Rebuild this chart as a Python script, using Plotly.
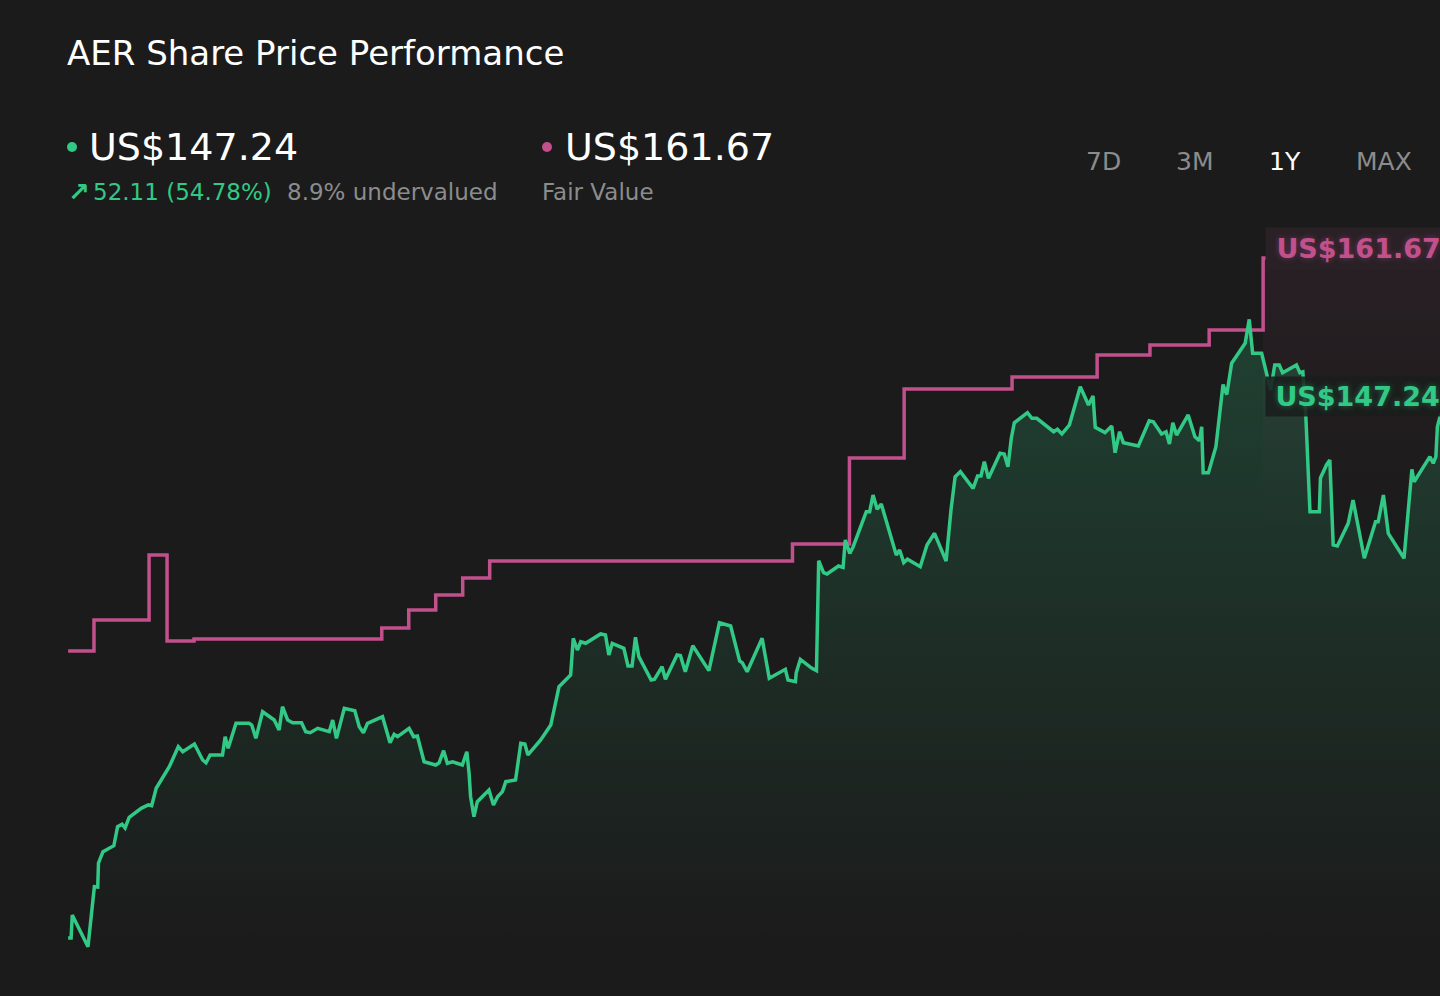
import plotly.graph_objects as go

# price history (days since start, US$)
price_day = [0.0, 0.8, 1.1, 5.3, 7.0, 7.9, 8.1, 9.3, 12.2, 13.2, 14.4, 15.2, 16.3, 19.5, 21.4, 22.3,
             23.5, 24.8, 27.0, 29.4, 30.6, 33.7, 35.9, 36.8, 37.9, 41.2, 41.9, 42.7, 44.8, 48.3, 49.0,
             50.1, 51.9, 55.0, 56.3, 57.2, 58.6, 59.9, 62.3, 63.4, 64.6, 66.6, 69.7, 70.6, 71.6, 73.7,
             76.5, 77.7, 78.8, 79.9, 83.9, 85.9, 87.0, 87.9, 91.0, 92.2, 93.2, 95.0, 98.1, 99.0, 100.2,
             101.2, 102.6, 105.2, 106.4, 107.0, 107.4, 108.3, 109.2, 112.3, 113.5, 114.6, 115.9, 116.8,
             119.4, 120.8, 121.9, 122.7, 126.1, 128.8, 129.6, 131.0, 134.1, 134.8, 135.9, 136.8, 138.1,
             142.1, 143.4, 144.3, 145.2, 148.3, 149.4, 150.5, 151.4, 152.3, 155.6, 156.5, 158.5, 159.4,
             162.5, 163.4, 164.7, 166.7, 171.0, 173.8, 176.8, 179.2, 179.9, 181.2, 185.2, 187.1, 191.4,
             192.1, 194.1, 194.3, 195.4, 198.5, 199.7, 200.3, 201.6, 202.5, 205.6, 206.8, 207.4, 208.6,
             209.5, 213.0, 213.9, 214.8, 215.9, 217.0, 221.0, 221.9, 223.0, 224.0, 227.4, 229.2, 231.2,
             234.3, 235.6, 236.7, 238.1, 241.5, 242.7, 243.6, 244.5, 245.6, 248.7, 249.8, 250.8, 251.7,
             252.5, 256.0, 257.2, 258.5, 263.0, 264.0, 265.2, 267.2, 270.1, 272.3, 273.5, 274.1, 276.7,
             278.5, 279.4, 280.6, 281.6, 285.6, 288.5, 289.6, 291.8, 293.0, 293.9, 294.8, 295.8, 298.9,
             300.7, 301.9, 302.5, 302.9, 304.3, 306.3, 308.2, 309.2, 310.5, 314.1, 315.2, 316.1, 318.5,
             320.9, 322.0, 323.2, 324.1, 327.8, 328.7, 329.5, 330.3, 331.4, 333.9, 334.2, 335.8, 336.7,
             337.6, 338.7, 341.6, 342.9, 345.9, 348.9, 349.6, 351.0, 352.3, 356.5, 358.6, 359.2, 363.4,
             364.3, 365.0, 365.4, 366.1, 367.5]
price_value = [95.13, 95.13, 97.38, 94.28, 100.15, 100.12, 102.47, 103.58, 104.16, 106.02, 106.26, 105.90,
               106.94, 107.82, 108.15, 108.08, 109.78, 110.59, 111.89, 113.85, 113.36, 114.11, 112.55,
               112.28, 113.04, 113.04, 114.83, 113.69, 116.14, 116.14, 115.97, 114.67, 117.27, 116.46,
               115.48, 117.76, 116.46, 116.20, 116.20, 115.32, 115.22, 115.65, 115.32, 116.46, 114.67,
               117.61, 117.37, 115.81, 115.22, 116.14, 116.79, 114.24, 115.06, 114.83, 115.65, 114.83,
               114.90, 112.38, 112.06, 112.28, 113.46, 112.23, 112.38, 112.06, 113.36, 111.25, 108.96,
               107.00, 108.47, 109.61, 108.15, 108.96, 109.45, 110.43, 110.59, 114.18, 114.11, 113.04,
               114.51, 115.97, 117.44, 119.72, 120.87, 124.46, 123.31, 124.12, 123.97, 124.88, 124.78,
               122.82, 123.97, 123.48, 121.75, 121.75, 124.56, 122.66, 120.38, 120.45, 121.68, 120.45,
               122.82, 122.76, 121.19, 123.73, 121.29, 125.98, 125.66, 122.24, 122.07, 121.19, 124.46,
               120.54, 121.42, 120.38, 120.21, 121.09, 122.40, 121.52, 121.29, 132.05, 130.88, 130.75,
               131.53, 131.40, 134.08, 132.77, 133.42, 136.85, 136.85, 138.48, 137.08, 137.60, 132.61,
               133.10, 131.86, 132.19, 131.46, 133.59, 134.73, 132.02, 137.01, 140.27, 140.76, 139.13,
               140.34, 140.34, 141.74, 140.11, 142.56, 142.49, 141.25, 144.03, 145.55, 146.53, 145.98,
               145.98, 144.67, 144.91, 144.45, 145.33, 149.08, 147.29, 148.17, 145.10, 144.58, 145.23,
               142.62, 144.67, 143.60, 143.27, 145.75, 145.65, 144.45, 144.67, 143.47, 145.55, 144.35,
               146.31, 144.18, 143.79, 145.16, 140.66, 140.66, 143.21, 149.29, 148.31, 151.37, 153.32,
               155.67, 152.34, 152.34, 148.75, 151.20, 151.20, 150.45, 151.20, 150.45, 150.54, 146.14,
               136.85, 136.85, 140.14, 141.42, 141.90, 133.59, 133.49, 135.71, 137.99, 132.29, 135.87,
               135.87, 138.48, 134.73, 132.29, 140.99, 139.78, 142.23, 141.58, 142.23, 145.16, 146.14,
               147.24]

# fair value estimate (step changes)
fair_day = [0.0, 6.9, 21.6, 26.4, 33.6, 83.7, 90.9, 98.1, 105.3, 112.5, 193.3, 208.5, 223.1, 251.9,
            274.6, 288.7, 304.5, 318.9, 367.5]
fair_value = [123.22, 126.25, 132.61, 124.19, 124.39, 125.47, 127.23, 128.70, 130.36, 132.02, 133.69,
              142.10, 148.85, 150.03, 152.18, 153.16, 154.62, 161.67, 161.67]

title = "AER Share Price Performance"
last_price = "US$147.24"
fair_price = "US$161.67"
change_text = "52.11 (54.78%)"
valuation_text = "8.9% undervalued"
ranges = ["7D", "3M", "1Y", "MAX"]
selected_range = "1Y"

GREEN = "#31c985"
PINK = "#c2508d"
GREY = "#8c8c8c"
BG = "#1b1b1b"
FONT = "DejaVu Sans"

W, H = 1440, 996
L, R, T, B = 67, 0, 220, 30


def px(x):
    return (x - L) / (W - L - R)


def py(y):
    return (H - B - y) / (H - T - B)


fig = go.Figure()

# green area under the price
fig.add_trace(go.Scatter(
    x=price_day, y=price_value, mode="lines", line=dict(width=0),
    fill="tozeroy",
    fillgradient=dict(type="vertical", start=95, stop=156,
                      colorscale=[[0, "rgba(49,201,133,0.0)"], [1, "rgba(49,201,133,0.22)"]]),
    hoverinfo="skip", showlegend=False))

# faint tint under the latest fair value
fig.add_trace(go.Scatter(x=[fair_day[-2], fair_day[-1]], y=[135, 135], mode="lines",
                         line=dict(width=0), hoverinfo="skip", showlegend=False))
fig.add_trace(go.Scatter(
    x=[fair_day[-2], fair_day[-1]], y=[fair_value[-2], fair_value[-1]], mode="lines",
    line=dict(width=0), fill="tonexty",
    fillgradient=dict(type="vertical", start=135, stop=161.67,
                      colorscale=[[0, "rgba(194,80,141,0.0)"], [1, "rgba(194,80,141,0.08)"]]),
    hoverinfo="skip", showlegend=False))

fig.add_trace(go.Scatter(x=fair_day, y=fair_value, mode="lines", line=dict(color=PINK, width=3.5, shape="hv"),
                         hoverinfo="skip", showlegend=False))
fig.add_trace(go.Scatter(x=price_day, y=price_value, mode="lines", line=dict(color=GREEN, width=3.5),
                         hoverinfo="skip", showlegend=False))

ann = []
ann.append(dict(x=px(65), y=py(53), text=title, font=dict(size=34, color="#ffffff", family=FONT)))
ann.append(dict(x=px(87), y=py(147), text=last_price, font=dict(size=38, color="#ffffff", family=FONT)))
ann.append(dict(x=px(563), y=py(147), text=fair_price, font=dict(size=38, color="#ffffff", family=FONT)))
ann.append(dict(x=px(66), y=py(192), text="<b>↗</b>", font=dict(size=26, color=GREEN, family=FONT)))
ann.append(dict(x=px(91), y=py(192), text=change_text, font=dict(size=23, color=GREEN, family=FONT)))
ann.append(dict(x=px(285), y=py(192), text=valuation_text, font=dict(size=23, color=GREY, family=FONT)))
ann.append(dict(x=px(540), y=py(192), text="Fair Value", font=dict(size=23, color=GREY, family=FONT)))
for lab, cx in zip(ranges, [1103, 1194, 1285, 1384]):
    ann.append(dict(x=px(cx), y=py(162), text=lab, xanchor="center",
                    font=dict(size=25, color="#ffffff" if lab == selected_range else GREY, family=FONT)))
for a in ann:
    a.update(xref="paper", yref="paper", showarrow=False, yanchor="middle")
    a.setdefault("xanchor", "left")

# value tags at the right edge (they run off the page like the original)
ann.append(dict(x=px(1265), xref="paper", y=fair_value[-1], yref="y", yshift=10,
                text="\u2009<b>" + fair_price + "</b>",
                xanchor="left", yanchor="middle", showarrow=False, bgcolor="#292126", borderpad=5,
                font=dict(size=27, color=PINK, family=FONT, shadow="0px 0px 6px rgba(194,80,141,0.45)")))
ann.append(dict(x=px(1265), xref="paper", y=price_value[-1], yref="y", yshift=9,
                text="\u2009<b>" + last_price + "</b>",
                xanchor="left", yanchor="middle", showarrow=False, bgcolor="rgba(26,30,28,0.88)", borderpad=4,
                font=dict(size=27, color=GREEN, family=FONT, shadow="0px 0px 6px rgba(49,201,133,0.45)")))

shapes = []
for cx, col in [(72, GREEN), (547, PINK)]:
    shapes.append(dict(type="circle", xref="paper", yref="paper", x0=px(cx - 5), x1=px(cx + 5),
                       y0=py(147 + 5), y1=py(147 - 5), fillcolor=col, line=dict(width=0)))

fig.update_layout(
    width=W, height=H,
    margin=dict(l=L, r=R, t=T, b=B),
    paper_bgcolor=BG, plot_bgcolor=BG,
    annotations=ann, shapes=shapes,
    showlegend=False, hovermode=False,
    xaxis=dict(range=[-0.3, 366.1], visible=False, fixedrange=True),
    yaxis=dict(range=[92.39, 165.39], visible=False, fixedrange=True),
)

fig.write_html("out.html", config={"displayModeBar": False},
               post_script="document.body.style.margin='0';document.body.style.background='#1b1b1b';")
